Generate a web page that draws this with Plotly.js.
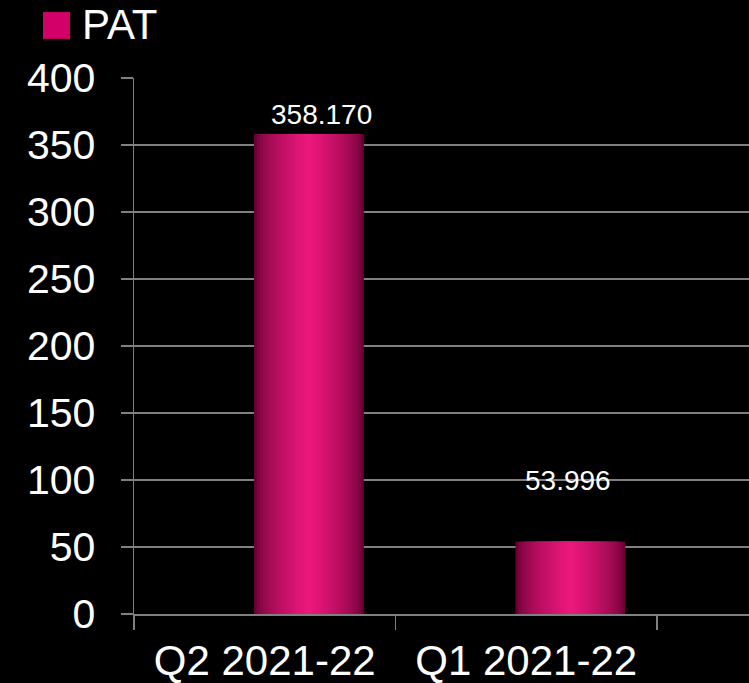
<!DOCTYPE html>
<html>
<head>
<meta charset="utf-8">
<script src="https://cdn.plot.ly/plotly-3.0.1.min.js"></script>
<style>
  html, body { margin: 0; padding: 0; background: #000; }
  #chart { width: 749px; height: 683px; }
</style>
</head>
<body>
<div id="chart"></div>
<script>
// ---- data ----
const categories = ['Q2 2021-22', 'Q1 2021-22'];
const patValues = [358.170, 53.996];
const valueLabels = ['358.170', '53.996'];
const seriesName = 'PAT';
const yTickValues = [0, 50, 100, 150, 200, 250, 300, 350, 400];

// ---- styling (cylinder-like shading via overlaid bars) ----
const barWidth = 0.42;
const barLeft = -0.041;
const highlightCenter = 0.5;
const nLayers = 20;
const darkRGB = [104, 0, 52];
const brightRGB = [235, 24, 124];
function shade(t) {
  const e = Math.pow(t, 0.6);
  const c = darkRGB.map((d, k) => Math.round(d + (brightRGB[k] - d) * e));
  return 'rgb(' + c.join(',') + ')';
}
const traces = [];
for (let i = 0; i < nLayers; i++) {
  const f = 1 - i / nLayers;
  traces.push({
    type: 'bar',
    x: categories,
    y: patValues,
    name: seriesName,
    width: barWidth * f,
    offset: barLeft + (highlightCenter - f / 2) * barWidth,
    marker: { color: shade(i / (nLayers - 1)), line: { width: 0 } },
    showlegend: false,
    hoverinfo: 'skip'
  });
}

const labelShiftX = [57, 42];
const labelShiftY = [20, 61];
const annotations = categories.map((c, i) => ({
  x: c, y: patValues[i], xref: 'x', yref: 'y',
  text: valueLabels[i], showarrow: false,
  xanchor: 'center', yanchor: 'middle',
  xshift: labelShiftX[i], yshift: labelShiftY[i],
  font: { family: 'Liberation Sans, Arial, sans-serif', size: 28, color: '#ffffff' }
}));
annotations.push({
  x: -0.087, y: 1.099, xref: 'paper', yref: 'paper',
  text: seriesName, showarrow: false, xanchor: 'left', yanchor: 'middle',
  font: { family: 'Liberation Sans, Arial, sans-serif', size: 42, color: '#ffffff' }
});

const layout = {
  width: 749, height: 683,
  paper_bgcolor: '#000000', plot_bgcolor: '#000000',
  margin: { l: 134, r: 0, t: 78, b: 69 },
  barmode: 'overlay',
  showlegend: false,
  font: { family: 'Liberation Sans, Arial, sans-serif', color: '#ffffff' },
  xaxis: {
    type: 'category',
    range: [-0.5, 1.852],
    tickson: 'boundaries',
    ticks: 'outside', ticklen: 14, tickwidth: 1.5, tickcolor: '#808080',
    showline: true, linecolor: '#808080', linewidth: 1.5,
    showgrid: false, zeroline: false,
    tickfont: { size: 42, color: '#ffffff' },
    ticklabelstandoff: 9
  },
  yaxis: {
    range: [0, 400],
    tickvals: yTickValues,
    ticks: 'outside', ticklen: 12, tickwidth: 1.5, tickcolor: '#808080',
    showline: true, linecolor: '#808080', linewidth: 1.5,
    showgrid: true, gridcolor: '#808080', gridwidth: 1.5,
    zeroline: false,
    tickfont: { size: 41, color: '#ffffff' },
    ticklabelstandoff: 17
  },
  shapes: [{
    type: 'rect', xref: 'paper', yref: 'paper',
    x0: -0.148, x1: -0.104, y0: 1.073, y1: 1.123,
    fillcolor: '#d4006a', line: { width: 0 }
  }],
  annotations: annotations
};

Plotly.newPlot('chart', traces, layout, { displayModeBar: false, staticPlot: true });
</script>
</body>
</html>
